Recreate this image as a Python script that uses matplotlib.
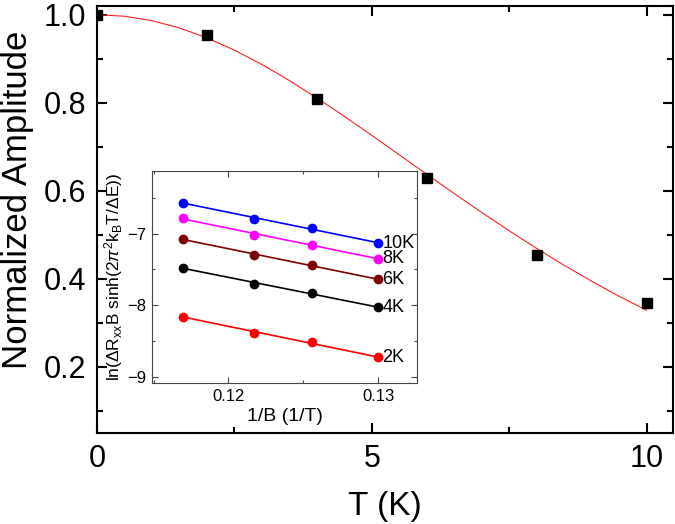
import numpy as np
import matplotlib.pyplot as plt
from matplotlib.ticker import MultipleLocator

plt.rcParams['font.family'] = ['Liberation Sans', 'DejaVu Sans']
plt.rcParams['mathtext.fontset'] = 'custom'
plt.rcParams['mathtext.rm'] = 'Liberation Sans'
plt.rcParams['mathtext.it'] = 'Liberation Sans:italic'

# main panel: normalized oscillation amplitude vs temperature
temps = [0, 2, 4, 6, 8, 10]
amplitude = [1.0, 0.955, 0.809, 0.63, 0.455, 0.346]

# LK fit curve
fit_T = [0, 0.5, 1, 1.5, 2, 2.5, 3, 3.5, 4, 4.5, 5, 5.5, 6, 6.5, 7, 7.5,
         8, 8.5, 9, 9.5, 10]
fit_amp = [1.0, 0.9966, 0.9865, 0.970, 0.9475, 0.9196, 0.8871, 0.8506,
           0.8111, 0.7693, 0.7260, 0.6818, 0.6376, 0.5938, 0.5509, 0.5092,
           0.4692, 0.4310, 0.3948, 0.3606, 0.3287]

# inset: Dingle-type plot
inv_B = [0.1170, 0.1217, 0.1256, 0.1300]
inset_labels = ['10K', '8K', '6K', '4K', '2K']
inset_colors = ['#0000ff', '#ff00ff', '#7f0000', '#000000', '#ff0000']
inset_vals = [
    [-6.565, -6.79, -6.92, -7.13],
    [-6.785, -7.014, -7.15, -7.35],
    [-7.074, -7.30, -7.435, -7.64],
    [-7.477, -7.70, -7.83, -8.03],
    [-8.159, -8.39, -8.52, -8.73],
]

fig = plt.figure(figsize=(6.75, 5.24), dpi=100)
ax = fig.add_axes([0.1437, 0.1737, 0.8533, 0.815])

ax.plot(fit_T, fit_amp, color='#ff2020', lw=0.8)
ax.plot(temps, amplitude, 's', color='black', ms=6.5)

ax.set_xlim(0, 10.48)
ax.set_ylim(0.05, 1.02)
ax.xaxis.set_major_locator(MultipleLocator(5))
ax.xaxis.set_minor_locator(MultipleLocator(2.5))
ax.yaxis.set_major_locator(MultipleLocator(0.2))
ax.yaxis.set_minor_locator(MultipleLocator(0.1))
ax.tick_params(which='both', direction='in', top=True, right=True,
               width=1.5, labelsize=22, pad=8)
ax.tick_params(which='major', length=7)
ax.tick_params(which='minor', length=4)
for s in ax.spines.values():
    s.set_linewidth(1.5)
ax.set_xlabel('T (K)', fontsize=24, labelpad=12)
ax.set_ylabel('Normalized Amplitude', fontsize=25)
ax.yaxis.set_label_coords(-0.11, 0.545)

# inset
ins = fig.add_axes([0.2252, 0.2691, 0.3926, 0.4046])
for vals, c, lab in zip(inset_vals, inset_colors, inset_labels):
    p = np.polyfit(inv_B, vals, 1)
    ins.plot(inv_B, np.polyval(p, inv_B), '-', color=c, lw=1.2)
    ins.plot(inv_B, vals, 'o', color=c, ms=6)
    ins.annotate(lab, (inv_B[-1], vals[-1]), xytext=(3, 0),
                 textcoords='offset points', va='center', ha='left',
                 fontsize=13)

ins.set_xlim(0.1149, 0.1326)
ins.set_ylim(-9.09, -6.12)
ins.xaxis.set_major_locator(MultipleLocator(0.01))
ins.xaxis.set_minor_locator(MultipleLocator(0.005))
ins.yaxis.set_major_locator(MultipleLocator(1))
ins.yaxis.set_minor_locator(MultipleLocator(0.5))
ins.tick_params(which='both', direction='in', top=True, right=True,
                width=0.8, labelsize=12, pad=4, color='#444444')
ins.tick_params(which='major', length=4)
ins.tick_params(which='minor', length=2.5)
for s in ins.spines.values():
    s.set_linewidth(0.8)
    s.set_color('#444444')
ins.set_xlabel('1/B (1/T)', fontsize=14, labelpad=3)
ins.set_ylabel(r'ln($\Delta$R$_\mathregular{xx}$B sinh(2$\pi^\mathregular{2}$'
               r'k$_\mathregular{B}$T/$\Delta$E))', fontsize=12.5, labelpad=2)

fig.savefig('out.png', dpi=100)
